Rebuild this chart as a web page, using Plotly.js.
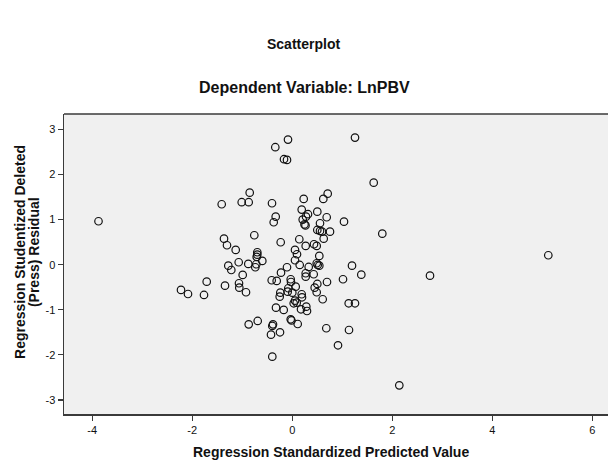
<!DOCTYPE html>
<html>
<head>
<meta charset="utf-8">
<script src="https://cdn.plot.ly/plotly-3.0.1.min.js"></script>
<style>html,body{margin:0;padding:0;background:#fff;}#chart{width:609px;height:464px;}</style>
</head>
<body>
<div id="chart"></div>
<script>
// Regression Standardized Predicted Value
const predicted = [
  -3.874, -2.224, -2.084, -1.764, -1.710, -1.410, -1.364, -1.304, -1.344, -1.278,
  -1.218, -1.130, -1.070, -1.064, -1.058, -1.010, -0.990, -0.924, -0.878, -0.870,
  -0.850, -0.870, -0.758, -0.698, -0.698, -0.710, -0.718, -0.738, -0.598, -0.690,
  -0.424, -0.398, -0.384, -0.398, -0.410, -0.310, -0.404, -0.330, -0.370, -0.338,
  -0.230, -0.224, -0.238, -0.250, -0.244, -0.324, -0.170, -0.164, -0.104, -0.084,
  -0.104, -0.078, -0.090, -0.030, -0.024, 0.002, -0.030, -0.014, 0.056, 0.096,
  0.056, 0.150, 0.070, 0.056, 0.030, 0.090, 0.110, 0.142, 0.190, 0.230,
  0.210, 0.246, 0.266, 0.270, 0.316, 0.276, 0.190, 0.196, 0.270, 0.270,
  0.282, 0.296, 0.176, 0.330, 0.430, 0.436, 0.490, 0.490, 0.510, 0.542,
  0.542, 0.502, 0.690, 0.556, 0.502, 0.556, 0.596, 0.756, 0.630, 0.622,
  0.710, 0.502, 0.450, 0.490, 0.696, 0.610, 0.682, 0.916, 1.016, 1.036,
  1.130, 1.256, 1.136, 1.196, 1.256, 1.382, 1.630, 1.802, 2.142, 2.756,
  5.122
];
// Regression Studentized Deleted (Press) Residual
const residual = [
  0.962, -0.560, -0.650, -0.672, -0.377, 1.339, 0.576, 0.430, -0.466, -0.022,
  -0.118, 0.326, 0.053, -0.412, -0.510, 1.384, -0.228, -0.612, 0.016, 1.384,
  1.596, -1.322, 0.652, 0.275, 0.222, 0.171, 0.009, -0.058, 0.082, -1.248,
  -1.552, -2.040, -1.322, -1.359, -0.346, -0.361, 1.361, 1.064, 0.940, 2.603,
  0.497, -0.177, -0.621, -0.710, -1.499, -0.953, -1.004, 2.337, 2.322, 2.772,
  -0.058, -0.523, -0.599, -0.324, -0.384, -0.621, -1.211, -1.237, 0.326, 0.231,
  0.098, -0.007, -0.488, -0.798, -0.856, -0.843, -1.315, 0.563, 1.220, 1.457,
  0.998, 0.891, 0.869, 0.415, 1.118, 1.064, -0.656, -0.723, -0.191, -0.266,
  -0.931, -1.027, -0.989, -0.051, -0.213, 0.452, 0.415, 0.031, -0.007, -0.022,
  0.193, 1.175, 1.051, 0.918, 0.769, 0.747, 0.732, 0.732, 0.576, 1.457,
  1.574, -0.428, -0.510, -0.612, -0.384, -0.767, -1.410, -1.787, -0.324, 0.953,
  -0.856, -0.856, -1.448, -0.022, 2.816, -0.222, 1.818, 0.687, -2.674, -0.244,
  0.208
];
const xTicks = [-4, -2, 0, 2, 4, 6];
const yTicks = [-3, -2, -1, 0, 1, 2, 3];

const mainTitle = 'Scatterplot';
const subTitle = 'Dependent Variable: LnPBV';
const xTitle = 'Regression Standardized Predicted Value';
const yTitle1 = 'Regression Studentized Deleted';
const yTitle2 = '(Press) Residual';

const font = 'Liberation Sans, Arial, sans-serif';

const trace = {
  x: predicted, y: residual, type: 'scatter', mode: 'markers',
  marker: {symbol: 'circle-open', size: 7.5, color: '#111', line: {width: 1.2, color: '#111'}},
  hoverinfo: 'x+y'
};

const axisCommon = {
  showgrid: false, zeroline: false, showline: true, linecolor: '#3a3a3a', linewidth: 1.5,
  ticks: 'outside', ticklen: 5, tickwidth: 1.2, tickcolor: '#3a3a3a',
  tickfont: {family: font, size: 11, color: '#111'}, fixedrange: true
};

const layout = {
  width: 609, height: 464,
  margin: {l: 64, r: 1, t: 114, b: 50, pad: 0},
  paper_bgcolor: '#ffffff', plot_bgcolor: '#f0f0f0',
  showlegend: false,
  xaxis: Object.assign({}, axisCommon, {range: [-4.564, 6.316], tickvals: xTicks, ticktext: xTicks.map(String), mirror: false}),
  yaxis: Object.assign({}, axisCommon, {range: [-3.31, 3.339], tickvals: yTicks, ticktext: yTicks.map(String)}),
  shapes: [{type: 'line', xref: 'paper', yref: 'paper', x0: 0, x1: 1, y0: 1, y1: 1, line: {color: '#3a3a3a', width: 1.5}}],
  annotations: [
    {text: '<b>' + mainTitle + '</b>', xref: 'paper', yref: 'paper', x: 0.441, y: 1.233, showarrow: false, xanchor: 'center', yanchor: 'middle', font: {family: font, size: 14, color: '#111'}},
    {text: '<b>' + subTitle + '</b>', xref: 'paper', yref: 'paper', x: 0.443, y: 1.087, showarrow: false, xanchor: 'center', yanchor: 'middle', font: {family: font, size: 16, color: '#111'}},
    {text: '<b>' + xTitle + '</b>', xref: 'paper', yref: 'paper', x: 0.491, y: -0.127, showarrow: false, xanchor: 'center', yanchor: 'middle', font: {family: font, size: 14, color: '#111'}},
    {text: '<b>' + yTitle1 + '</b>', xref: 'paper', yref: 'paper', x: -0.081, y: 0.54, showarrow: false, textangle: -90, xanchor: 'center', yanchor: 'middle', font: {family: font, size: 14, color: '#111'}},
    {text: '<b>' + yTitle2 + '</b>', xref: 'paper', yref: 'paper', x: -0.055, y: 0.54, showarrow: false, textangle: -90, xanchor: 'center', yanchor: 'middle', font: {family: font, size: 14, color: '#111'}}
  ]
};

Plotly.newPlot('chart', [trace], layout, {displayModeBar: false, staticPlot: true});
</script>
</body>
</html>
